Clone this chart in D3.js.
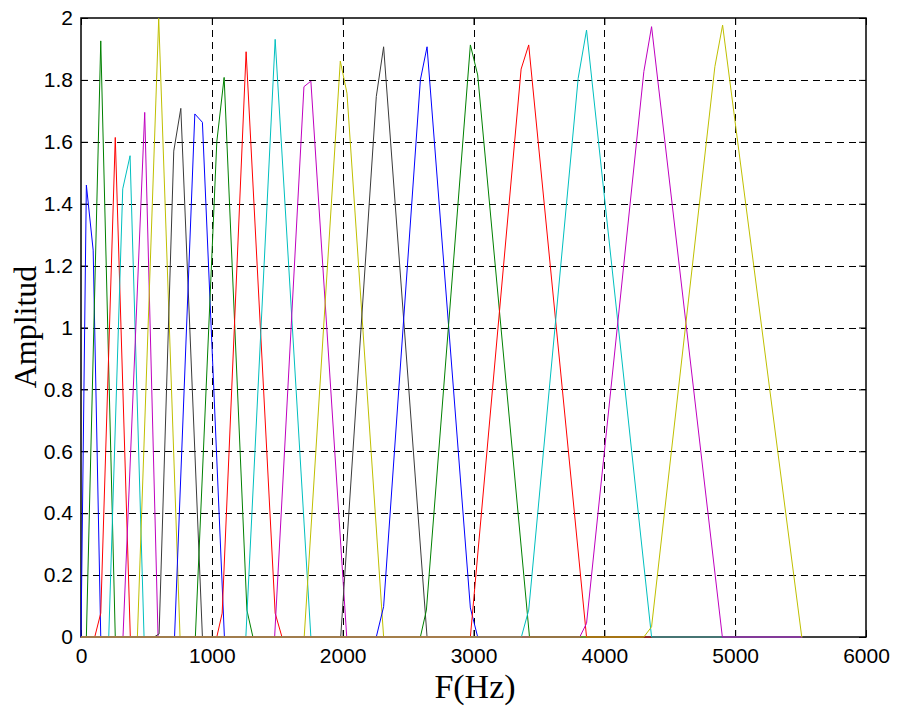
<!DOCTYPE html>
<html>
<head>
  <meta charset="utf-8">
  <title>Filter bank</title>
  <style>
    body { margin: 0; background: #fff; }
    svg { display: block; }
  </style>
</head>
<body>
  <svg width="899" height="706"></svg>
  <script src="https://d3js.org/d3.v7.min.js"></script>
  <script>
    // axis ticks
    var xTicks = [0, 1000, 2000, 3000, 4000, 5000, 6000];
    var yTicks = [0, 0.2, 0.4, 0.6, 0.8, 1, 1.2, 1.4, 1.6, 1.8, 2];

    // one polyline per filter: [frequency Hz, amplitude]
    var f01 = [[0, 0], [41, 1.46], [93, 1.25], [151, 0], [5512, 0]];
    var f02 = [[0, 0], [41, 0], [151, 1.926], [262, 0], [5512, 0]];
    var f03 = [[0, 0], [105, 0], [151, 0.077], [262, 1.614], [377, 0], [5512, 0]];
    var f04 = [[0, 0], [212, 0], [319, 1.448], [375, 1.555], [482, 0], [5512, 0]];
    var f05 = [[0, 0], [321, 0], [487, 1.695], [589, 0], [5512, 0]];
    var f06 = [[0, 0], [431, 0], [594, 1.999], [757, 0], [5512, 0]];
    var f07 = [[0, 0], [559, 0], [597, 0.01], [709, 1.57], [763, 1.708], [928, 0], [5512, 0]];
    var f08 = [[0, 0], [715, 0], [870, 1.69], [928, 1.663], [1096, 0], [5512, 0]];
    var f09 = [[0, 0], [874, 0], [1038, 1.60], [1094, 1.808], [1268, 0.087], [1314, 0], [5512, 0]];
    var f10 = [[0, 0], [1038, 0], [1079, 0.077], [1262, 1.891], [1484, 0.077], [1536, 0], [5512, 0]];
    var f11 = [[0, 0], [1260, 0], [1484, 1.931], [1757, 0], [5512, 0]];
    var f12 = [[0, 0], [1480, 0], [1704, 1.778], [1757, 1.796], [2031, 0], [5512, 0]];
    var f13 = [[0, 0], [1706, 0], [1982, 1.861], [2033, 1.757], [2313, 0], [5512, 0]];
    var f14 = [[0, 0], [1985, 0], [2257, 1.746], [2313, 1.907], [2645, 0], [5512, 0]];
    var f15 = [[0, 0], [2257, 0], [2313, 0.098], [2594, 1.80], [2645, 1.907], [2976, 0.094], [3032, 0], [5512, 0]];
    var f16 = [[0, 0], [2594, 0], [2640, 0.087], [2976, 1.913], [3032, 1.816], [3428, 0], [5512, 0]];
    var f17 = [[0, 0], [2976, 0], [3364, 1.835], [3422, 1.913], [3864, 0], [5512, 0]];
    var f18 = [[0, 0], [3366, 0], [3422, 0.087], [3800, 1.805], [3864, 1.961], [4361, 0], [5512, 0]];
    var f19 = [[0, 0], [3812, 0], [3864, 0.044], [4302, 1.827], [4361, 1.972], [4902, 0], [5512, 0]];
    var f20 = [[0, 0], [4302, 0], [4361, 0.033], [4845, 1.843], [4904, 1.977], [5509, 0], [5512, 0]];

    var filters = [f01, f02, f03, f04, f05, f06, f07, f08, f09, f10,
                   f11, f12, f13, f14, f15, f16, f17, f18, f19, f20];
    var lineColors = ["#0000ff", "#008000", "#ff0000", "#00bfbf", "#bf00bf", "#bfbf00", "#3a3a3a"];

    var plotL = 81, plotR = 866, plotT = 18, plotB = 637;

    var svg = d3.select("svg");
    svg.append("rect").attr("width", 899).attr("height", 706).attr("fill", "#fff");

    var x = d3.scaleLinear().domain([0, 6000]).range([plotL, plotR]);
    var y = d3.scaleLinear().domain([0, 2]).range([plotB, plotT]);

    // grid
    var grid = svg.append("g")
      .attr("stroke", "#000")
      .attr("stroke-width", 1)
      .attr("stroke-dasharray", "7,5");
    grid.selectAll(".gx").data(xTicks.slice(1, -1)).enter().append("line")
      .attr("x1", function (d) { return Math.round(x(d)) + 0.5; })
      .attr("x2", function (d) { return Math.round(x(d)) + 0.5; })
      .attr("y1", plotT).attr("y2", plotB);
    grid.selectAll(".gy").data(yTicks.slice(1, -1)).enter().append("line")
      .attr("y1", function (d) { return Math.round(y(d)) + 0.5; })
      .attr("y2", function (d) { return Math.round(y(d)) + 0.5; })
      .attr("x1", plotL).attr("x2", plotR);

    // axes (ticks point inward, labels outside)
    var font = "'Liberation Sans', Arial, sans-serif";
    var xAxis = d3.axisBottom(x).tickValues(xTicks).tickSizeInner(-7).tickSizeOuter(0)
      .tickPadding(11).tickFormat(d3.format("d"));
    var yAxis = d3.axisLeft(y).tickValues(yTicks).tickSizeInner(-7).tickSizeOuter(0)
      .tickPadding(8).tickFormat(function (d) { return String(+d.toFixed(1)); });

    svg.append("g").attr("transform", "translate(0," + plotB + ")").call(xAxis);
    svg.append("g").attr("transform", "translate(" + plotL + ",0)").call(yAxis);
    svg.append("g").attr("transform", "translate(0," + plotT + ")")
      .call(d3.axisTop(x).tickValues(xTicks).tickSizeInner(-7).tickSizeOuter(0).tickFormat(""));
    svg.append("g").attr("transform", "translate(" + plotR + ",0)")
      .call(d3.axisRight(y).tickValues(yTicks).tickSizeInner(-7).tickSizeOuter(0).tickFormat(""));

    svg.selectAll(".domain").remove();
    svg.selectAll(".tick line").attr("stroke", "#000").attr("stroke-width", 1);
    svg.selectAll(".tick text").attr("fill", "#000").style("font-family", font).style("font-size", "21px");

    svg.append("rect")
      .attr("x", plotL).attr("y", plotT)
      .attr("width", plotR - plotL).attr("height", plotB - plotT)
      .attr("fill", "none").attr("stroke", "#000").attr("stroke-width", 1.5);

    // filter lines
    var line = d3.line()
      .x(function (d) { return x(d[0]); })
      .y(function (d) { return y(d[1]); });

    svg.append("g").selectAll("path").data(filters).enter().append("path")
      .attr("d", line)
      .attr("fill", "none")
      .attr("stroke", function (d, i) { return lineColors[i % lineColors.length]; })
      .attr("stroke-width", 1);

    // axis titles
    svg.append("text")
      .attr("x", 475).attr("y", 698)
      .attr("text-anchor", "middle")
      .style("font-family", "'Liberation Serif', 'Times New Roman', serif")
      .style("font-size", "34px")
      .text("F(Hz)");

    svg.append("text")
      .attr("transform", "translate(36,327) rotate(-90)")
      .attr("text-anchor", "middle")
      .style("font-family", "'Liberation Serif', 'Times New Roman', serif")
      .style("font-size", "32px")
      .text("Amplitud");
  </script>
</body>
</html>
